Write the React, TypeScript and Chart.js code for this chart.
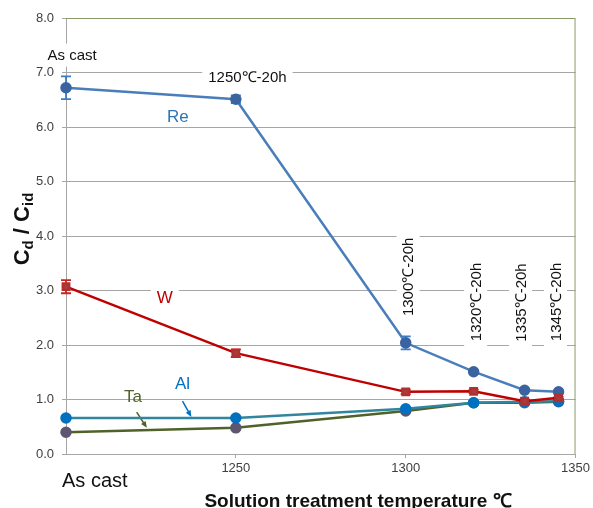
import React, { useEffect, useRef } from "react";
import { Chart, registerables } from "chart.js";

Chart.register(...registerables);

// x positions: 1200 is where the as-cast condition is plotted
const temps = [1200, 1250, 1300, 1320, 1335, 1345];
const xTickValues = [1250, 1300, 1350];

const reValues = [6.72, 6.51, 2.04, 1.51, 1.17, 1.14];
const reErrors = [0.21, 0.07, 0.12, 0, 0, 0];
const wValues = [3.07, 1.85, 1.14, 1.15, 0.97, 1.03];
const wErrors = [0.12, 0.07, 0.04, 0.03, 0.02, 0.02];
const alValues = [0.66, 0.66, 0.83, 0.94, 0.96, 0.97];
const taValues = [0.40, 0.48, 0.79, 0.94, 0.94, 0.96];

const FONT = "'Liberation Sans', Arial, sans-serif";

type Label = { text: string; x: number; y: number; color: string; size: number; rotate?: boolean; box?: boolean };

const labels: Label[] = [
  { text: "As cast", x: 1201.8, y: 7.32, color: "#111", size: 15, box: true },
  { text: "1250\u2103-20h", x: 1253.4, y: 6.92, color: "#111", size: 15, box: true },
  { text: "Re", x: 1232.9, y: 6.2, color: "#2e75b6", size: 17 },
  { text: "W", x: 1229.1, y: 2.88, color: "#c00000", size: 17, box: true },
  { text: "Al", x: 1234.3, y: 1.3, color: "#0070c0", size: 17 },
  { text: "Ta", x: 1219.7, y: 1.05, color: "#4f6228", size: 17 },
  { text: "1300\u2103-20h", x: 1300.7, y: 3.25, color: "#111", size: 15, rotate: true, box: true },
  { text: "1320\u2103-20h", x: 1320.6, y: 2.79, color: "#111", size: 15, rotate: true, box: true },
  { text: "1335\u2103-20h", x: 1333.8, y: 2.78, color: "#111", size: 15, rotate: true, box: true },
  { text: "1345\u2103-20h", x: 1344.1, y: 2.79, color: "#111", size: 15, rotate: true, box: true },
];

const arrows = [
  { from: [1234.3, 0.97], to: [1236.9, 0.68], color: "#0070c0" },
  { from: [1220.8, 0.77], to: [1223.8, 0.48], color: "#4f6228" },
];

const errorBars = [
  { values: reValues, errors: reErrors, color: "#3a7cc9" },
  { values: wValues, errors: wErrors, color: "#d02020" },
];

const pts = (vals: number[]) => temps.map((t, i) => ({ x: t, y: vals[i] }));

const annotationPlugin = {
  id: "annotations",
  beforeDatasetsDraw(chart: any) {
    const { ctx, scales, chartArea } = chart;
    const xs = scales.x;
    const ys = scales.y;
    ctx.save();
    // plot frame on top and right
    ctx.strokeStyle = "#8c9a6a";
    ctx.lineWidth = 1;
    ctx.beginPath();
    ctx.moveTo(chartArea.left, chartArea.top + 0.5);
    ctx.lineTo(chartArea.right - 0.5, chartArea.top + 0.5);
    ctx.lineTo(chartArea.right - 0.5, chartArea.bottom);
    ctx.stroke();

    for (const l of labels) {
      const px = xs.getPixelForValue(l.x);
      const py = ys.getPixelForValue(l.y);
      ctx.font = `${l.size}px ${FONT}`;
      const w = ctx.measureText(l.text).width;
      const h = l.size;
      ctx.save();
      ctx.translate(px, py);
      if (l.rotate) ctx.rotate(-Math.PI / 2);
      if (l.box) {
        ctx.fillStyle = "#ffffff";
        ctx.fillRect(-w / 2 - 6, -h / 2 - 4, w + 12, h + 8);
      }
      ctx.fillStyle = l.color;
      ctx.textAlign = "center";
      ctx.textBaseline = "middle";
      ctx.fillText(l.text, 0, 1);
      ctx.restore();
    }

    for (const a of arrows) {
      const x1 = xs.getPixelForValue(a.from[0]);
      const y1 = ys.getPixelForValue(a.from[1]);
      const x2 = xs.getPixelForValue(a.to[0]);
      const y2 = ys.getPixelForValue(a.to[1]);
      const ang = Math.atan2(y2 - y1, x2 - x1);
      ctx.strokeStyle = a.color;
      ctx.fillStyle = a.color;
      ctx.lineWidth = 1.5;
      ctx.beginPath();
      ctx.moveTo(x1, y1);
      ctx.lineTo(x2 - 4 * Math.cos(ang), y2 - 4 * Math.sin(ang));
      ctx.stroke();
      ctx.beginPath();
      ctx.moveTo(x2, y2);
      ctx.lineTo(x2 - 7 * Math.cos(ang - 0.4), y2 - 7 * Math.sin(ang - 0.4));
      ctx.lineTo(x2 - 7 * Math.cos(ang + 0.4), y2 - 7 * Math.sin(ang + 0.4));
      ctx.closePath();
      ctx.fill();
    }

    // error bars
    for (const e of errorBars) {
      ctx.strokeStyle = e.color;
      ctx.lineWidth = 1.8;
      e.values.forEach((v, i) => {
        if (!e.errors[i]) return;
        const px = xs.getPixelForValue(temps[i]);
        const top = ys.getPixelForValue(v + e.errors[i]);
        const bot = ys.getPixelForValue(v - e.errors[i]);
        ctx.beginPath();
        ctx.moveTo(px, top);
        ctx.lineTo(px, bot);
        ctx.moveTo(px - 5, top);
        ctx.lineTo(px + 5, top);
        ctx.moveTo(px - 5, bot);
        ctx.lineTo(px + 5, bot);
        ctx.stroke();
      });
    }
    ctx.restore();
  },
  afterDraw(chart: any) {
    const { ctx, scales } = chart;
    ctx.save();
    ctx.fillStyle = "#111";
    // as-cast label under the axis
    ctx.font = `20px ${FONT}`;
    ctx.textAlign = "left";
    ctx.textBaseline = "middle";
    ctx.fillText("As cast", scales.x.getPixelForValue(1200) - 4, 481);

    // x title
    ctx.font = `bold 19px ${FONT}`;
    ctx.textAlign = "center";
    ctx.fillText("Solution treatment temperature \u2103", 358, 502);

    // y title with subscripts
    ctx.translate(22, 229);
    ctx.rotate(-Math.PI / 2);
    const parts = [
      { t: "C", sub: false },
      { t: "d", sub: true },
      { t: " / C", sub: false },
      { t: "id", sub: true },
    ];
    const bigFont = `bold 22px ${FONT}`;
    const subFont = `bold 15px ${FONT}`;
    let total = 0;
    for (const p of parts) {
      ctx.font = p.sub ? subFont : bigFont;
      total += ctx.measureText(p.t).width;
    }
    let x = -total / 2;
    ctx.textAlign = "left";
    ctx.textBaseline = "alphabetic";
    for (const p of parts) {
      ctx.font = p.sub ? subFont : bigFont;
      ctx.fillText(p.t, x, p.sub ? 11 : 7);
      x += ctx.measureText(p.t).width;
    }
    ctx.restore();
  },
};

export default function App() {
  const ref = useRef<HTMLCanvasElement>(null);

  useEffect(() => {
    if (!ref.current) return;
    const chart = new Chart(ref.current, {
      type: "line",
      data: {
        datasets: [
          {
            label: "W",
            data: pts(wValues),
            borderColor: "#c00000",
            backgroundColor: "#a83c3c",
            pointBackgroundColor: "#a83c3c",
            pointBorderColor: "#b03030",
            pointStyle: "rect",
            pointRadius: 4.5,
            borderWidth: 2.5,
            clip: false,
          },
          {
            label: "Re",
            data: pts(reValues),
            borderColor: "#4a7ebb",
            backgroundColor: "#3a64a0",
            pointBackgroundColor: "#3a64a0",
            pointBorderColor: "#3a64a0",
            pointRadius: 4.5,
            borderWidth: 2.5,
            clip: false,
          },
          {
            label: "Al",
            data: pts(alValues),
            borderColor: "#31859c",
            backgroundColor: "#0070c0",
            pointBackgroundColor: "#0070c0",
            pointBorderColor: "#0070c0",
            pointRadius: 4.5,
            borderWidth: 2.5,
            clip: false,
          },
          {
            label: "Ta",
            data: pts(taValues),
            borderColor: "#4f6228",
            backgroundColor: "#5c5670",
            pointBackgroundColor: "#5c5670",
            pointBorderColor: "#5c5670",
            pointRadius: 4.5,
            borderWidth: 2.5,
            clip: false,
          },
        ],
      },
      options: {
        animation: false,
        responsive: false,
        layout: { padding: { top: 18, right: 16, left: 0, bottom: 0 } },
        plugins: { legend: { display: false }, tooltip: { enabled: false } },
        scales: {
          x: {
            type: "linear",
            min: 1200,
            max: 1350,
            afterBuildTicks: (axis: any) => {
              axis.ticks = xTickValues.map((v) => ({ value: v }));
            },
            afterFit: (axis: any) => {
              axis.height = 54;
            },
            grid: { drawOnChartArea: false, tickLength: 4, color: "#a6a6a6" },
            border: { color: "#a6a6a6", width: 1 },
            ticks: {
              color: "#404040",
              font: { family: FONT, size: 13 },
              padding: 3,
              maxRotation: 0,
              callback: (v: any) => String(v),
            },
          },
          y: {
            min: 0,
            max: 8,
            afterFit: (axis: any) => {
              axis.width = 66;
            },
            grid: { color: "#a6a6a6", tickLength: 4, lineWidth: 1 },
            border: { color: "#a6a6a6", width: 1 },
            ticks: {
              stepSize: 1,
              color: "#404040",
              font: { family: FONT, size: 13 },
              padding: 8,
              callback: (v: any) => Number(v).toFixed(1),
            },
          },
        },
      },
      plugins: [annotationPlugin],
    } as any);
    return () => chart.destroy();
  }, []);

  return (
    <div style={{ position: "fixed", left: 0, top: 0, width: 593, height: 508, background: "#fff" }}>
      <canvas ref={ref} width={593} height={508} style={{ width: 593, height: 508 }} />
    </div>
  );
}
